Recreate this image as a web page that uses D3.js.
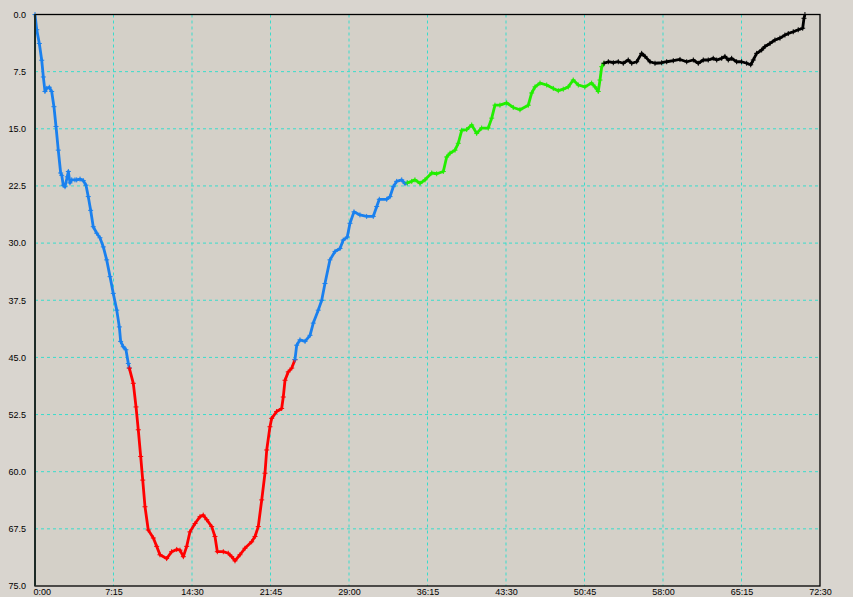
<!DOCTYPE html>
<html>
<head>
<meta charset="utf-8">
<script src="https://cdn.jsdelivr.net/npm/d3@7"></script>
<style>
  body { margin: 0; background: #d9d5cf; }
  svg { display: block; }
  .tick text { font-family: "Liberation Sans", Arial, sans-serif; font-size: 9px; fill: #000; }
</style>
</head>
<body>
<div id="chart"></div>
<script>
var svgWidth = 853
var svgHeight = 597

var margin = { top: 14.5, right: 33, bottom: 11, left: 35 }
var width = svgWidth - margin.left - margin.right
var height = svgHeight - margin.top - margin.bottom

// dive profile, [time in minutes, depth in metres]
var descent = [
  [0, 0], [0.16, 2.0], [0.40, 3.8], [0.62, 6.0], [0.77, 8.2], [0.92, 10.1], [1.08, 9.7],
  [1.32, 9.55], [1.54, 10.1], [1.75, 12.1], [1.94, 14.7], [2.15, 17.8], [2.37, 20.8],
  [2.47, 21.1], [2.61, 22.4], [2.77, 22.6], [2.98, 21.3], [3.08, 20.6], [3.23, 22.1],
  [3.39, 21.7], [3.69, 21.7], [3.85, 21.7], [4.16, 21.6], [4.46, 21.8], [4.71, 22.4],
  [4.92, 23.9], [5.14, 25.7], [5.38, 27.85], [5.70, 28.7], [6.00, 29.3], [6.31, 30.5],
  [6.62, 32.2], [6.93, 34.4], [7.23, 36.6], [7.55, 38.8], [7.79, 41.0], [7.91, 42.9],
  [8.15, 43.6], [8.40, 44.0], [8.62, 45.8], [8.71, 46.4]
]
var bottom = [
  [8.71, 46.4], [9.08, 48.4], [9.33, 51.5], [9.54, 54.5], [9.76, 58.0], [9.95, 61.1],
  [10.16, 64.6], [10.46, 67.65], [10.93, 68.7], [11.24, 69.8], [11.54, 70.9], [12.16, 71.4],
  [12.62, 70.5], [13.09, 70.2], [13.39, 70.3], [13.70, 71.15], [14.01, 69.8], [14.31, 67.9],
  [14.78, 66.8], [15.24, 65.9], [15.54, 65.7], [15.86, 66.3], [16.32, 67.2], [16.62, 68.5],
  [16.84, 70.5], [17.39, 70.5], [17.85, 70.7], [18.17, 71.15], [18.47, 71.7], [18.93, 70.9],
  [19.39, 70.05], [20.01, 69.2], [20.32, 68.5], [20.62, 67.2], [20.94, 63.7], [21.24, 60.2],
  [21.40, 57.15], [21.70, 54.1], [21.86, 53.0], [22.32, 52.1], [22.78, 51.7], [22.93, 50.2],
  [23.09, 48.0], [23.39, 46.9], [23.71, 46.4], [24.01, 45.3]
]
var ascent = [
  [24.01, 45.3], [24.17, 43.4], [24.47, 42.7], [24.94, 42.9], [25.40, 42.1], [25.70, 40.5],
  [26.16, 38.8], [26.48, 37.5], [26.78, 35.3], [27.24, 32.2], [27.71, 31.1], [28.17, 30.7],
  [28.47, 29.6], [28.84, 29.2], [29.09, 27.4], [29.46, 25.9], [30.01, 26.3], [30.63, 26.5],
  [31.24, 26.5], [31.56, 25.2], [31.80, 24.25], [32.48, 24.25], [32.79, 23.9], [33.09, 22.6],
  [33.40, 21.9], [33.87, 21.7], [34.17, 22.2], [34.38, 22.1]
]
var stops = [
  [34.38, 22.1], [34.79, 21.9], [35.09, 21.7], [35.56, 22.15], [36.02, 21.7], [36.64, 20.8],
  [37.10, 20.9], [37.71, 20.6], [38.02, 18.7], [38.33, 18.2], [38.79, 17.8], [39.09, 16.9],
  [39.41, 15.2], [39.87, 15.1], [40.33, 14.5], [40.79, 15.6], [41.25, 14.9], [41.86, 14.9],
  [42.18, 13.6], [42.48, 11.9], [42.94, 11.9], [43.56, 11.6], [44.17, 12.2], [44.79, 12.5],
  [45.56, 11.9], [45.87, 10.3], [46.18, 9.5], [46.64, 9.0], [47.26, 9.25], [47.87, 9.7],
  [48.33, 10.0], [48.79, 9.8], [49.25, 9.5], [49.71, 8.6], [50.18, 9.25], [50.79, 9.5],
  [51.41, 9.0], [51.72, 9.5], [52.02, 10.1], [52.18, 8.6], [52.34, 6.85], [52.55, 6.4]
]
var surface = [
  [52.55, 6.4], [52.95, 6.2], [53.41, 6.33], [53.87, 6.2], [54.33, 6.4], [54.79, 5.97],
  [55.11, 6.4], [55.57, 6.2], [56.03, 5.1], [56.34, 5.5], [56.80, 6.2], [57.26, 6.4],
  [57.88, 6.33], [58.34, 6.2], [58.95, 6.06], [59.57, 5.9], [60.19, 6.2], [60.80, 5.97],
  [61.26, 6.4], [61.72, 5.97], [62.18, 5.97], [62.64, 5.75], [62.96, 5.97], [63.42, 5.75],
  [63.72, 5.5], [64.03, 5.97], [64.34, 5.75], [64.80, 6.2], [65.26, 6.2], [65.73, 6.4],
  [66.10, 6.6], [66.34, 5.97], [66.65, 5.1], [67.11, 4.66], [67.42, 4.2], [67.88, 3.8],
  [68.34, 3.35], [68.80, 3.1], [69.26, 2.7], [69.57, 2.5], [70.03, 2.26], [70.49, 2.0],
  [70.90, 1.8], [71.02, 0.5], [71.11, 0]
]

var segments = [descent, bottom, ascent, stops, surface]
var segmentColors = ["#1a80ee", "#ff0000", "#1a80ee", "#22ee00", "#000000"]

var xTicks = [0, 7.25, 14.5, 21.75, 29, 36.25, 43.5, 50.75, 58, 65.25, 72.5]
var xTickLabels = ["0:00", "7:15", "14:30", "21:45", "29:00", "36:15", "43:30", "50:45", "58:00", "65:15", "72:30"]
var yTicks = [0, 7.5, 15, 22.5, 30, 37.5, 45, 52.5, 60, 67.5, 75]
var yTickLabels = ["0.0", "7.5", "15.0", "22.5", "30.0", "37.5", "45.0", "52.5", "60.0", "67.5", "75.0"]

var svg = d3.select("#chart")
  .append("svg")
  .attr("width", svgWidth)
  .attr("height", svgHeight)

var chartGroup = svg.append("g")
  .attr("transform", `translate(${margin.left}, ${margin.top})`)

var xScale = d3.scaleLinear().domain([0, 72.5]).range([0, width])
var yScale = d3.scaleLinear().domain([0, 75]).range([0, height])

chartGroup.append("rect")
  .attr("width", width)
  .attr("height", height)
  .attr("fill", "#d4d0c8")

// dashed grid
chartGroup.selectAll(".vgrid")
  .data(xTicks.slice(1, -1))
  .enter()
  .append("line")
  .attr("x1", d => xScale(d)).attr("x2", d => xScale(d))
  .attr("y1", 0).attr("y2", height)
  .attr("stroke", "#38dccc")
  .attr("stroke-dasharray", "3,3")

chartGroup.selectAll(".hgrid")
  .data(yTicks.slice(1, -1))
  .enter()
  .append("line")
  .attr("y1", d => yScale(d)).attr("y2", d => yScale(d))
  .attr("x1", 0).attr("x2", width)
  .attr("stroke", "#38dccc")
  .attr("stroke-dasharray", "3,3")

var bottomAxis = d3.axisBottom(xScale)
  .tickValues(xTicks)
  .tickSize(0)
  .tickPadding(3)
  .tickFormat((d, i) => xTickLabels[i])

var leftAxis = d3.axisLeft(yScale)
  .tickValues(yTicks)
  .tickSize(0)
  .tickPadding(9)
  .tickFormat((d, i) => yTickLabels[i])

var xAxisG = chartGroup.append("g")
  .attr("transform", `translate(0, ${height})`)
  .call(bottomAxis)
xAxisG.select(".domain").remove()
xAxisG.selectAll(".tick text").filter((d, i) => i === 0)
  .attr("text-anchor", "start").attr("dx", "-2")

var yAxisG = chartGroup.append("g")
  .call(leftAxis)
yAxisG.select(".domain").remove()

var line = d3.line()
  .x(d => xScale(d[0]))
  .y(d => yScale(d[1]))

segments.forEach((seg, i) => {
  chartGroup.append("path")
    .datum(seg)
    .attr("d", line)
    .attr("fill", "none")
    .attr("stroke", segmentColors[i])
    .attr("stroke-width", 2.8)
    .attr("stroke-linejoin", "round")

  chartGroup.selectAll(".mark" + i)
    .data(seg)
    .enter()
    .append("path")
    .attr("transform", d => `translate(${xScale(d[0])}, ${yScale(d[1])})`)
    .attr("d", "M-2.5,0H2.5M0,-2.5V2.5")
    .attr("stroke", segmentColors[i])
    .attr("stroke-width", 1)
})

// frame
chartGroup.append("rect")
  .attr("width", width)
  .attr("height", height)
  .attr("fill", "none")
  .attr("stroke", "#000")
  .attr("stroke-width", 1.3)

chartGroup.append("line")
  .attr("x1", 0).attr("x2", 0)
  .attr("y1", 0).attr("y2", height)
  .attr("stroke", "#1c2a26")
  .attr("stroke-width", 2)
</script>
</body>
</html>
